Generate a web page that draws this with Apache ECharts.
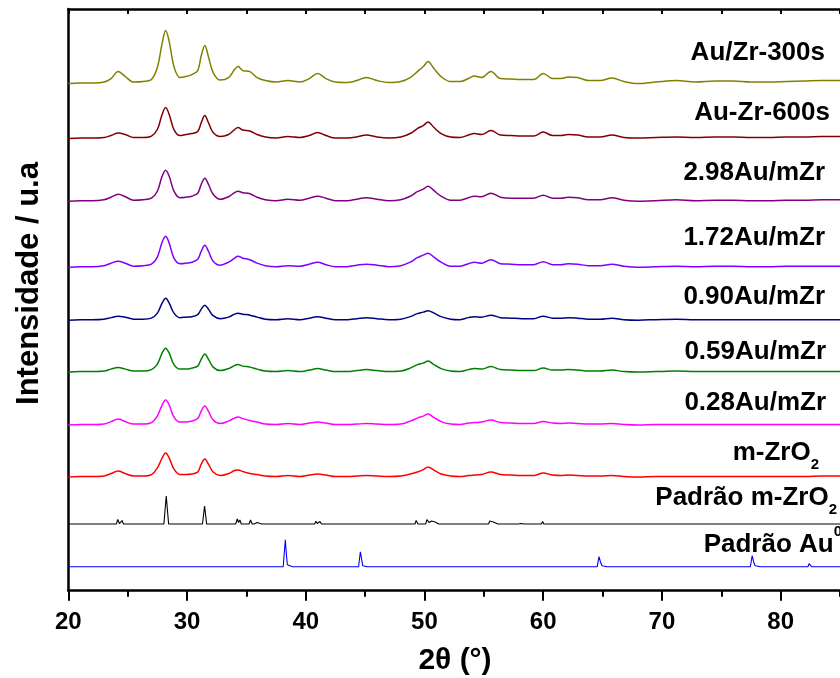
<!DOCTYPE html>
<html>
<head>
<meta charset="utf-8">
<script src="https://cdn.jsdelivr.net/npm/echarts@6/dist/echarts.min.js"></script>
<style>
  html, body { margin: 0; padding: 0; background: #fff; }
  #chart { width: 840px; height: 678px; }
</style>
</head>
<body>
<div id="chart"></div>
<script>
// 2θ grid (degrees) shared by the measured sample patterns
const twoTheta = [20, 21, 22, 23, 23.6, 24.2, 24.8, 25.5, 26.3, 27.0, 27.5, 27.9, 28.2, 28.5, 28.9, 29.4, 29.9, 30.4, 30.9, 31.2,
  31.5, 31.8, 32.2, 32.8, 33.5, 34.0, 34.3, 34.7, 35.3, 35.9, 36.6, 37.5, 38.5, 39.5, 40.3, 41.0, 41.7, 42.5, 43.5, 44.3,
  45.1, 46.0, 47.0, 48.0, 48.8, 49.4, 49.9, 50.3, 50.8, 51.4, 52.2, 53.0, 53.7, 54.2, 54.8, 55.6, 56.4, 57.3, 58.2, 59.2,
  60.0, 60.8, 61.5, 62.1, 62.9, 63.8, 64.8, 65.8, 66.8, 68.0, 69.5, 71.2, 72.8, 74.5, 76.0, 77.5, 79.0, 80.5, 82.0, 83.5, 85];

// Intensities (a.u.) above each pattern's own baseline
const auZr300s = [0, 0.5, 0.5, 1.5, 5, 12, 7, 1.5, 2, 4, 16, 40, 53, 42, 17, 6, 7, 9, 13, 28,
  38, 27, 11, 3.5, 6, 14, 17, 13, 12, 6, 3, 1.5, 3, 1.5, 5, 10, 5, 1.5, 1, 3,
  6, 3, 1, 2, 6, 12, 17, 22, 15, 7, 2, 2, 5, 7.5, 6, 12, 5, 4.5, 4, 4,
  10, 5, 5, 6.5, 6, 3, 3, 5.5, 2, 0, 1.5, 3, 1.5, 2.5, 2.5, 1.5, 1.5, 2, 2.5, 3, 3];
const auZr600s = [0, 0.5, 0.5, 1, 3, 5.5, 4, 1, 1, 2.5, 9, 24, 31, 24, 9, 3, 4, 5, 7, 16,
  23, 16, 6, 2, 4, 9, 11, 8.5, 7.5, 4, 1.5, 0.5, 2, 1, 3, 6, 3, 0.5, 0.5, 1.5,
  3.5, 1.5, 0.5, 1.5, 5, 10, 13, 16.5, 11, 5, 1.5, 1, 3.5, 5, 4, 8, 3.5, 3, 2.5, 2.5,
  6.5, 3, 3, 4, 3.5, 1.5, 1.5, 3.5, 1, 0.5, 1, 1.5, 1, 1.5, 1.5, 1, 1, 1.5, 1.5, 2, 2];
const au298 = [0, 0.5, 0.5, 1.5, 4, 7, 4.5, 1, 1.5, 3, 10, 25, 31, 25, 10, 3.5, 4, 5, 8, 17,
  23, 17, 7, 2, 4.5, 8.5, 10, 8.5, 7.5, 4, 1.5, 0.5, 2, 1, 3, 5, 3, 0.5, 0.5, 2,
  3.5, 2, 0.5, 1.5, 5, 9.5, 12, 15, 10.5, 5, 1, 1, 3.5, 5, 4.5, 8, 4, 3, 3, 3,
  6, 3, 3, 4, 3.5, 1.5, 1.5, 3.5, 1, 0, 0.5, 1.5, 0.5, 1, 1, 0.5, 0.5, 1, 1, 1.5, 1.5];
const au172 = [0, 0.5, 0.5, 1.5, 4, 6, 4, 1, 1.5, 3, 10, 25, 31, 24, 9, 3.5, 4, 5, 8, 16,
  22, 16, 6, 2, 5, 9, 11, 9, 7.5, 4, 1.5, 0.5, 1.5, 1, 3, 5, 2.5, 0.5, 0.5, 2,
  3, 2, 0.5, 1.5, 5, 9.5, 12, 14, 10, 5, 1, 1, 3.5, 5, 4, 7.5, 3.5, 3, 2.5, 2.5,
  5.5, 2.5, 2.5, 3.5, 3, 1.5, 1.5, 3, 1, 0, 0.5, 1, 0.5, 1, 1, 0.5, 0.5, 1, 1, 1, 1];
const au090 = [0, 0.5, 0.5, 1, 2.5, 4, 3, 1, 1, 2, 7, 17, 22, 17, 7, 2.5, 3, 3.5, 5.5, 11,
  15, 11, 4.5, 1.5, 3, 6, 7, 6, 5, 3, 1, 0.5, 1.5, 0.5, 2, 3.5, 2, 0.5, 0.5, 1.5,
  2.5, 1.5, 0.5, 1, 3.5, 6.5, 8, 9.5, 7, 3.5, 1, 0.5, 2.5, 3.5, 3, 5, 2.5, 2, 1.5, 1.5,
  4, 2, 2, 2.5, 2, 1, 1, 2, 0.5, 0, 0.5, 1, 0.5, 0.5, 0.5, 0.5, 0.5, 0.5, 0.5, 0.5, 0.5];
const au059 = [0, 0.5, 0.5, 1, 3, 4.5, 3, 1, 1, 2.5, 8, 19, 24, 19, 7.5, 3, 3, 4, 6, 13,
  18, 13, 5, 1.5, 3.5, 6.5, 7.5, 6, 5, 3, 1, 0.5, 1.5, 0.5, 2, 3.5, 2, 0.5, 0.5, 1.5,
  2.5, 1.5, 0.5, 1, 4, 7.5, 9, 11, 7.5, 3.5, 1, 0.5, 2.5, 3.5, 3, 5.5, 2.5, 2, 1.5, 1.5,
  4, 2, 2, 2.5, 2, 1, 1, 2, 0.5, 0, 0.5, 1, 0.5, 0.5, 0.5, 0.5, 0.5, 0.5, 0.5, 0.5, 0.5];
const au028 = [0, 0.5, 0.5, 1, 3.5, 6, 3.5, 1, 1, 2.5, 9, 20, 25, 20, 8, 3, 3, 4, 6.5, 14,
  19, 14, 5, 1.5, 4, 7, 8, 6.5, 4.5, 3, 1, 0.5, 1.5, 0.5, 2, 3, 2, 0.5, 0.5, 1,
  1.5, 1, 0.5, 1, 4, 7, 9, 11, 7.5, 3.5, 1, 0.5, 2, 2.5, 3, 5, 2.5, 2, 1.5, 1.5,
  3.5, 2, 1.5, 2, 1.5, 1, 1, 1.5, 0.5, 0, 0.5, 0.5, 0.5, 0.5, 0.5, 0.5, 0.5, 0.5, 0.5, 0.5, 0.5];
const mZrO2 = [0, 0.5, 0.5, 1, 3.5, 6, 3.5, 1, 1, 2.5, 9, 19, 24, 19, 8, 2.5, 2.5, 3, 5, 13,
  18, 13, 5, 1.5, 3.5, 6.5, 7, 5.5, 3.5, 2.5, 1, 0.5, 1.5, 0.5, 2, 3, 2, 0.5, 0.5, 1,
  1.5, 1, 0.5, 1, 3, 5, 7.5, 10, 7, 3, 1, 0.5, 1.5, 2, 2.5, 5, 2.5, 2, 1.5, 1.5,
  4, 2, 1.5, 2, 1.5, 1, 1, 1.5, 0.5, 0, 0.5, 0.5, 0.5, 0.5, 0.5, 0.5, 0.5, 0.5, 0.5, 1, 1];

// Reference patterns: [2θ, intensity] points
const stdZrO2 = [[20, 0], [24.05, 0], [24.17, 4.7], [24.3, 0.5], [24.53, 3.5], [24.65, 0], [25.0, 0],
  [28.05, 0], [28.25, 28], [28.45, 0], [28.8, 0],
  [31.3, 0], [31.48, 18], [31.65, 0], [32.0, 0],
  [34.1, 0], [34.23, 5], [34.34, 1.5], [34.45, 4], [34.57, 0], [34.9, 0],
  [35.22, 0], [35.35, 4], [35.48, 0], [35.65, 0], [35.8, 0], [35.9, 1.5], [36.0, 0], [36.3, 0],
  [38.6, 0], [38.7, 1.5], [38.8, 0], [39.1, 0],
  [40.75, 0], [40.85, 2.7], [40.97, 0.5], [41.1, 0.5], [41.2, 2.5], [41.32, 0], [41.6, 0],
  [44.8, 0], [44.9, 2], [45.0, 0], [45.2, 0], [45.5, 0], [45.6, 2], [45.7, 0], [46.0, 0],
  [49.2, 0], [49.3, 3.5], [49.45, 0], [49.7, 0],
  [50.1, 0], [50.2, 4.5], [50.4, 1.5], [50.6, 3], [50.75, 1], [50.9, 2], [51.05, 0], [51.2, 0], [51.3, 1.5], [51.4, 0], [51.7, 0],
  [54.1, 0], [54.2, 2], [54.3, 0], [54.6, 0],
  [55.4, 0], [55.5, 3], [55.65, 1], [55.8, 2], [55.9, 0], [56.2, 0],
  [57.2, 0], [57.3, 1.5], [57.4, 0], [57.65, 0],
  [57.9, 0], [58.0, 1.5], [58.15, 0.5], [58.3, 1.5], [58.4, 0], [58.7, 0],
  [59.85, 0], [59.95, 2.5], [60.05, 0], [60.35, 0],
  [61.4, 0], [61.5, 1.5], [61.6, 0], [61.8, 0], [62.0, 0], [62.1, 1.5], [62.2, 0], [62.5, 0], [62.8, 0], [62.9, 1.5], [63.0, 0], [63.3, 0],
  [64.2, 0], [64.3, 1], [64.4, 0], [64.7, 0], [65.6, 0], [65.7, 1.5], [65.8, 0], [66.1, 0],
  [69.0, 0], [69.1, 1], [69.2, 0], [69.5, 0], [71.2, 0], [71.3, 1], [71.4, 0], [71.7, 0], [75.3, 0], [75.4, 1], [75.5, 0], [75.8, 0], [85, 0]];
const stdAu = [[20, 0], [38.1, 0], [38.28, 27], [38.36, 14], [38.45, 2], [38.55, 0], [38.9, 0],
  [44.45, 0], [44.6, 15], [44.7, 8], [44.8, 1], [44.9, 0], [45.2, 0],
  [64.55, 0], [64.7, 10], [64.82, 5], [64.95, 1], [65.05, 0], [65.4, 0],
  [77.45, 0], [77.6, 11], [77.72, 5], [77.85, 1], [77.95, 0], [78.3, 0],
  [82.3, 0], [82.4, 3], [82.5, 2], [82.6, 0], [83.0, 0], [85, 0]];

// Pattern names, top to bottom, and the vertical offset each one is stacked at
const names = ['Au/Zr-300s', 'Au-Zr-600s', '2.98Au/mZr', '1.72Au/mZr', '0.90Au/mZr',
  '0.59Au/mZr', '0.28Au/mZr', 'm-ZrO2', 'Padrão m-ZrO2', 'Padrão Au0'];
const stackOffsets = [507.4, 452.4, 389.7, 323.7, 270.7, 218.7, 165.7, 113.7, 66.7, 24];
const xTicks = { min: 20, max: 85, major: 10, minor: 5 };

const colors = ['#808000', '#800000', '#800080', '#8000FF', '#000080', '#008000', '#FF00FF', '#FF0000', '#000000', '#0000FF'];
const samples = [auZr300s, auZr600s, au298, au172, au090, au059, au028, mZrO2];
const FONT = '"Liberation Sans", Arial, sans-serif';

const series = [];
samples.forEach((vals, i) => {
  series.push({
    name: names[i], type: 'line', xAxisIndex: 0, yAxisIndex: 0,
    data: vals.map((v, k) => [twoTheta[k], v + stackOffsets[i]]),
    showSymbol: false, smooth: 0.35, silent: true,
    lineStyle: { color: colors[i], width: 1.5 }
  });
});
[stdZrO2, stdAu].forEach((pts, j) => {
  const i = samples.length + j;
  series.push({
    name: names[i], type: 'line', xAxisIndex: 0, yAxisIndex: 0,
    data: pts.map(p => [p[0], p[1] + stackOffsets[i]]),
    showSymbol: false, smooth: false, silent: true,
    lineStyle: { color: colors[i], width: 1.1 }
  });
});

// Pattern captions (right-aligned above each trace)
const mainTok = { fontFamily: FONT, fontWeight: 'bold', fontSize: 26, lineHeight: 30, fill: '#000' };
const subTok = { fontFamily: FONT, fontWeight: 'bold', fontSize: 15, lineHeight: 15, fill: '#000', padding: [24, 0, 0, 0] };
const supTok = { fontFamily: FONT, fontWeight: 'bold', fontSize: 15, lineHeight: 15, fill: '#000', padding: [0, 0, 26, 0] };
const captions = [
  { text: '{m|Au/Zr-300s}', x: 825, y: 53 },
  { text: '{m|Au-Zr-600s}', x: 830, y: 113 },
  { text: '{m|2.98Au/mZr}', x: 825, y: 173 },
  { text: '{m|1.72Au/mZr}', x: 825, y: 238 },
  { text: '{m|0.90Au/mZr}', x: 825, y: 297 },
  { text: '{m|0.59Au/mZr}', x: 826, y: 352 },
  { text: '{m|0.28Au/mZr}', x: 826, y: 403 },
  { text: '{m|m-ZrO}{s|2}', x: 819, y: 453 },
  { text: '{m|Padrão m-ZrO}{s|2}', x: 837, y: 498 },
  { text: '{m|Padrão Au}{p|0}', x: 842, y: 545 }
];
const graphics = captions.map(c => ({
  type: 'text', x: c.x, y: c.y, silent: true,
  style: { text: c.text, align: 'right', verticalAlign: 'middle', rich: { m: mainTok, s: subTok, p: supTok } }
}));
graphics.push({
  type: 'text', x: 455, y: 661, silent: true,
  style: { text: '2θ (°)', font: 'bold 30px ' + FONT, fill: '#000', align: 'center', verticalAlign: 'middle' }
});
graphics.push({
  type: 'text', x: 29, y: 283.5, rotation: Math.PI / 2, silent: true,
  style: { text: 'Intensidade / u.a', font: 'bold 31px ' + FONT, fill: '#000', align: 'center', verticalAlign: 'middle' }
});

const axisLine = { show: true, lineStyle: { color: '#000', width: 2.5 } };
const chart = echarts.init(document.getElementById('chart'), null, { renderer: 'canvas' });
chart.setOption({
  animation: false,
  backgroundColor: '#fff',
  grid: { left: 68.3, right: -7.7, top: 9, bottom: 87.3, containLabel: false },
  xAxis: [
    {
      type: 'value', position: 'bottom', min: xTicks.min, max: xTicks.max, interval: xTicks.major,
      axisLine: axisLine,
      axisTick: { show: true, inside: false, length: 10, lineStyle: { color: '#000', width: 2 } },
      axisLabel: { show: true, showMaxLabel: false, margin: 20, color: '#000', fontFamily: FONT, fontWeight: 'bold', fontSize: 24 },
      splitLine: { show: false }
    },
    {
      type: 'value', position: 'bottom', min: xTicks.min, max: xTicks.max, interval: xTicks.minor,
      axisLine: { show: false },
      axisTick: { show: true, inside: false, length: 6, lineStyle: { color: '#000', width: 2 } },
      axisLabel: { show: false }, splitLine: { show: false }
    },
    {
      type: 'value', position: 'top', min: xTicks.min, max: xTicks.max, interval: xTicks.minor,
      axisLine: axisLine,
      axisTick: { show: true, inside: true, length: 5, lineStyle: { color: '#000', width: 2 } },
      axisLabel: { show: false }, splitLine: { show: false }
    }
  ],
  yAxis: {
    type: 'value', min: 0, max: 582,
    axisLine: axisLine, axisTick: { show: false }, axisLabel: { show: false }, splitLine: { show: false }
  },
  graphic: graphics,
  series: series
});
</script>
</body>
</html>
